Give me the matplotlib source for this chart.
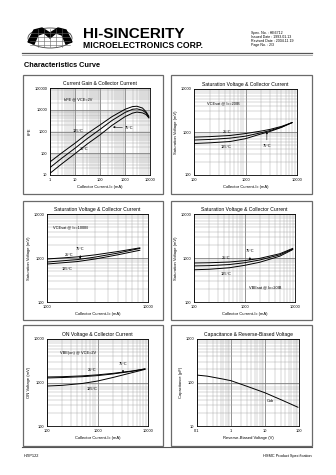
import numpy as np
import matplotlib
matplotlib.use("Agg")
import matplotlib.pyplot as plt
from matplotlib.patches import Rectangle, Ellipse, Polygon
from matplotlib.ticker import FixedLocator, LogLocator, NullFormatter

plt.rcParams['font.family'] = ['Liberation Sans', 'DejaVu Sans']

W, H = 336, 475

# --- data ---
hfe_ic = [1, 3, 10, 30, 100, 300, 1000, 2000, 3000, 5000, 7000, 9000]
hfe_125 = [40, 105, 290, 780, 2000, 4800, 10500, 14000, 14500, 12000, 8000, 5000]
hfe_75 = [22, 60, 170, 460, 1250, 3200, 7500, 10500, 11000, 9500, 7000, 4500]
hfe_25 = [12, 33, 95, 260, 700, 1900, 4800, 7000, 7800, 7200, 6000, 4200]

sat1_ic = [100, 200, 500, 1000, 2000, 3000, 5000, 8000]
sat1_25 = [760, 780, 830, 920, 1050, 1150, 1350, 1650]
sat1_75 = [650, 670, 720, 800, 960, 1080, 1300, 1650]
sat1_125 = [540, 560, 600, 700, 900, 1030, 1280, 1650]

sat2_ic = [1000, 2000, 3000, 5000, 8300]
sat2_25 = [950, 1060, 1180, 1400, 1700]
sat2_75 = [810, 920, 1050, 1290, 1650]
sat2_125 = [730, 830, 950, 1180, 1500]

sat3_ic = [100, 200, 500, 1000, 2000, 5000, 9000]
sat3_25 = [770, 780, 810, 870, 980, 1250, 1650]
sat3_75 = [660, 670, 710, 780, 900, 1180, 1600]
sat3_125 = [540, 555, 600, 680, 800, 1100, 1550]

on_ic = [100, 200, 500, 1000, 2000, 5000, 8700]
on_25 = [1340, 1360, 1420, 1500, 1620, 1850, 2050]
on_75 = [1270, 1300, 1360, 1440, 1570, 1820, 2050]
on_125 = [830, 860, 950, 1080, 1300, 1700, 2000]

cap_v = [0.1, 0.2, 0.58, 1, 3.2, 10, 30, 93]
cap_cob = [148, 140, 120, 110, 80, 58, 40, 27]

fig = plt.figure(figsize=(W / 100, H / 100), dpi=100)
fig.patch.set_facecolor('white')


def px_axes(x0, y0, x1, y1):
    return fig.add_axes([x0 / W, 1 - y1 / H, (x1 - x0) / W, (y1 - y0) / H])


def panel(x0, y0, x1, y1):
    fig.patches.append(Rectangle((x0 / W, 1 - y1 / H), (x1 - x0) / W, (y1 - y0) / H,
                                 transform=fig.transFigure, fill=False,
                                 edgecolor='#6a6a6a', lw=0.9))


def setup(ax, xlim, ylim, xticks, yticks, title, xlabel, ylabel):
    ax.set_xscale('log')
    ax.set_yscale('log')
    ax.set_xlim(*xlim)
    ax.set_ylim(*ylim)
    ax.xaxis.set_major_locator(FixedLocator(xticks))
    ax.yaxis.set_major_locator(FixedLocator(yticks))
    ax.xaxis.set_minor_locator(LogLocator(base=10, subs=np.arange(2, 10)))
    ax.yaxis.set_minor_locator(LogLocator(base=10, subs=np.arange(2, 10)))
    ax.xaxis.set_minor_formatter(NullFormatter())
    ax.yaxis.set_minor_formatter(NullFormatter())
    ax.set_xticklabels([('%g' % t) for t in xticks])
    ax.set_yticklabels([('%g' % t) for t in yticks])
    ax.tick_params(which='both', length=0, labelsize=2.8, pad=2)
    ax.grid(True, which='major', color='#666666', lw=0.5)
    ax.grid(True, which='minor', color='#a0a0a0', lw=0.3)
    for s in ax.spines.values():
        s.set_linewidth(0.6)
    ax.set_title(title, fontsize=3.6, pad=2.5)
    ax.set_xlabel(xlabel, fontsize=3.0, labelpad=2)
    ax.set_ylabel(ylabel, fontsize=3.0, labelpad=2)


def txt(ax, x, y, s, size=2.8):
    ax.text(x, y, s, fontsize=size, ha='left', va='center')


def arrow(ax, xy, xytext, s):
    ax.annotate(s, xy=xy, xytext=xytext, fontsize=2.8, ha='center', va='center',
                arrowprops=dict(arrowstyle='-|>', lw=0.4, color='black',
                                mutation_scale=2.5, shrinkA=1, shrinkB=0))


# --- header ---
logo = fig.add_axes([26 / W, 1 - 50 / H, 48 / W, 26 / H])
logo.set_xlim(0, 48)
logo.set_ylim(0, 26)
logo.axis('off')
logo.add_patch(Ellipse((24, 12), 44, 20, fill=False, lw=0.6, color='#444'))
for yy in [5, 9, 13, 17]:
    logo.plot([4, 44], [yy, yy], color='#666', lw=0.4)
for xx in [12, 18, 24, 30, 36]:
    logo.plot([xx, xx], [3, 21], color='#666', lw=0.4)
logo.add_patch(Polygon([[2, 8], [8, 20], [16, 22], [24, 17], [32, 22], [40, 20], [46, 8],
                        [40, 6], [36, 15], [30, 17], [24, 12], [18, 17], [12, 15], [8, 6]],
                       closed=True, color='black'))

fig.text(83 / W, 1 - 38 / H, 'HI-SINCERITY', fontsize=11, fontweight='bold', va='baseline')
fig.text(83 / W, 1 - 48 / H, 'MICROELECTRONICS CORP.', fontsize=6.2, fontweight='bold',
         va='baseline')
spec = ['Spec. No. : HE6712', 'Issued Date : 1993.01.13', 'Revised Date : 2004.11.19',
        'Page No. : 2/3']
for i, s in enumerate(spec):
    fig.text(251 / W, 1 - (34 + i * 4.1) / H, s, fontsize=2.6, va='baseline')
fig.add_artist(plt.Line2D([22 / W, 312 / W], [1 - 53 / H, 1 - 53 / H], color='#555', lw=0.9))
fig.add_artist(plt.Line2D([22 / W, 312 / W], [1 - 54.5 / H, 1 - 54.5 / H], color='#aaa',
                          lw=0.6))
fig.text(24 / W, 1 - 67 / H, 'Characteristics Curve', fontsize=5.3, fontweight='bold',
         va='baseline')

# footer
fig.add_artist(plt.Line2D([22 / W, 312 / W], [1 - 447 / H, 1 - 447 / H], color='#555', lw=0.8))
fig.text(24 / W, 1 - 457 / H, 'HTIP122', fontsize=2.8, va='baseline')
fig.text(312 / W, 1 - 457 / H, 'HSMC Product Specification', fontsize=2.8, va='baseline',
         ha='right')

# panels
for (x0, x1) in [(23, 163), (171, 312)]:
    for (y0, y1) in [(75, 194), (201, 320), (325, 446)]:
        panel(x0, y0, x1, y1)

# 1. current gain
ax = px_axes(50, 88, 150, 175)
setup(ax, (1, 10000), (10, 100000), [1, 10, 100, 1000, 10000], [10, 100, 1000, 10000, 100000],
      'Current Gain & Collector Current', 'Collector Current-Ic (mA)', 'hFE')
for ys in (hfe_125, hfe_75, hfe_25):
    ax.plot(hfe_ic, ys, color='black', lw=0.7)
txt(ax, 3.5, 30000, 'hFE @ VCE=2V')
txt(ax, 8, 1100, '125°C')
arrow(ax, (330, 1600), (900, 1500), '')
txt(ax, 950, 1500, '75°C')
txt(ax, 16, 160, '25°C')

# 2. saturation voltage
ax = px_axes(194, 89, 297, 175)
setup(ax, (100, 10000), (100, 10000), [100, 1000, 10000], [100, 1000, 10000],
      'Saturation Voltage & Collector Current', 'Collector Current-Ic (mA)',
      'Saturation Voltage (mV)')
for ys in (sat1_25, sat1_75, sat1_125):
    ax.plot(sat1_ic, ys, color='black', lw=0.7)
txt(ax, 180, 4700, 'VCEsat @ Ic=20IB')
txt(ax, 360, 1000, '25°C')
txt(ax, 330, 440, '125°C')
arrow(ax, (2600, 1010), (2600, 470), '75°C')

# 3. saturation voltage, Ic=100IB
ax = px_axes(47, 214, 148, 302)
setup(ax, (1000, 10000), (100, 10000), [1000, 10000], [100, 1000, 10000],
      'Saturation Voltage & Collector Current', 'Collector Current-Ic (mA)',
      'Saturation Voltage (mV)')
for ys in (sat2_25, sat2_75, sat2_125):
    ax.plot(sat2_ic, ys, color='black', lw=0.7)
txt(ax, 1150, 5000, 'VCEsat @ Ic=100IB')
txt(ax, 1500, 1200, '25°C')
arrow(ax, (2130, 940), (2130, 1600), '75°C')
txt(ax, 1400, 560, '125°C')

# 4. saturation voltage, base
ax = px_axes(194, 214, 295, 302)
setup(ax, (100, 10000), (100, 10000), [100, 1000, 10000], [100, 1000, 10000],
      'Saturation Voltage & Collector Current', 'Collector Current-Ic (mA)',
      'Saturation Voltage (mV)')
for ys in (sat3_25, sat3_75, sat3_125):
    ax.plot(sat3_ic, ys, color='black', lw=0.7)
txt(ax, 360, 1000, '25°C')
arrow(ax, (1280, 880), (1280, 1450), '75°C')
txt(ax, 330, 440, '125°C')
txt(ax, 1250, 210, 'VBEsat @ Ic=20IB')

# 5. on voltage
ax = px_axes(47, 339, 148, 426)
setup(ax, (100, 10000), (100, 10000), [100, 1000, 10000], [100, 1000, 10000],
      'ON Voltage & Collector Current', 'Collector Current-Ic (mA)', 'ON Voltage (mV)')
for ys in (on_25, on_75, on_125):
    ax.plot(on_ic, ys, color='black', lw=0.7)
txt(ax, 180, 4700, 'VBE(on) @ VCE=2V')
txt(ax, 650, 1900, '25°C')
arrow(ax, (3200, 1680), (3200, 2600), '75°C')
txt(ax, 620, 700, '125°C')

# 6. capacitance
ax = px_axes(197, 339, 299, 426)
setup(ax, (0.1, 100), (10, 1000), [0.1, 1, 10, 100], [10, 100, 1000],
      'Capacitance & Reverse-Biased Voltage', 'Reverse-Biased Voltage (V)',
      'Capacitance (pF)')
ax.plot(cap_v, cap_cob, color='black', lw=0.7)
txt(ax, 11, 38, 'Cob')

fig.savefig('out.png', dpi=100)
